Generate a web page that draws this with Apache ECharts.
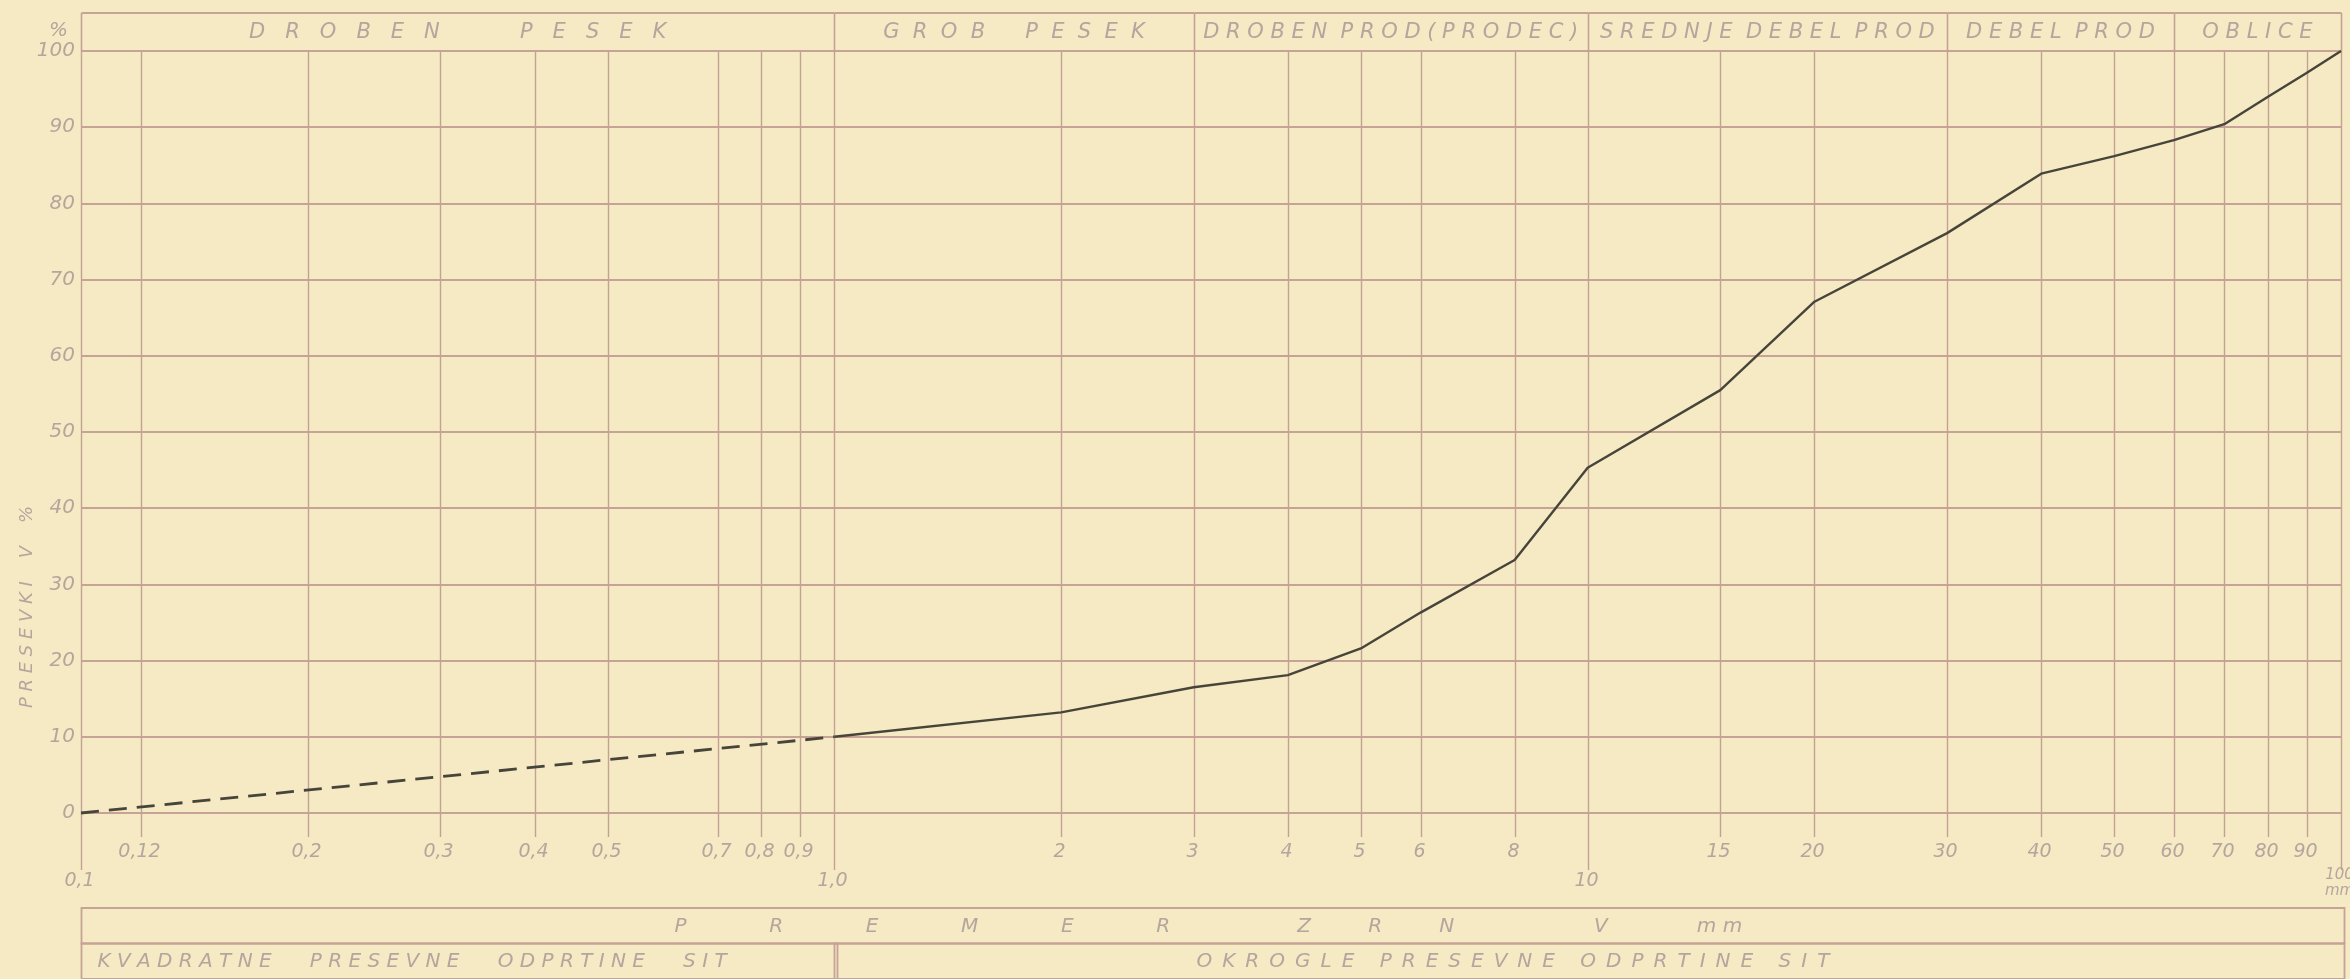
<!DOCTYPE html>
<html>
<head>
<meta charset="utf-8">
<script src="https://cdn.jsdelivr.net/npm/echarts@6/dist/echarts.min.js"></script>
<style>
  html, body { margin: 0; padding: 0; background: #f5eac3; }
  #c { width: 2350px; height: 979px; }
</style>
</head>
<body>
<div id="c"></div>
<script>
// ---------------- DATA ----------------
const sieveSizes  = [0.1, 0.12, 0.2, 0.3, 0.4, 0.5, 0.7, 0.8, 0.9, 1, 2, 3, 4, 5, 6, 8, 10, 15, 20, 30, 40, 50, 60, 70, 80, 90, 100];
const sieveLabels = ['0,1', '0,12', '0,2', '0,3', '0,4', '0,5', '0,7', '0,8', '0,9', '1,0', '2', '3', '4', '5', '6', '8', '10', '15', '20', '30', '40', '50', '60', '70', '80', '90', '100\nmm'];
const majorSizes  = [0.1, 1, 10, 100];

const percentMin = 0;
const percentMax = 100;
const percentStep = 10;

// dashed (extrapolated) part of the grading curve
const extrapolatedSize    = [0.1, 1];
const extrapolatedPassing = [0, 10];
// measured grading curve
const measuredSize    = [1, 2, 3, 4, 5, 6, 8, 10, 15, 20, 30, 40, 50, 60, 70, 80, 90, 100];
const measuredPassing = [10, 13.2, 16.5, 18.1, 21.6, 26.3, 33.2, 45.3, 55.5, 67.1, 76.1, 83.9, 86.2, 88.3, 90.4, 94.0, 97.1, 100];

// fraction bands in header
const bandEdges = [0.1, 1, 3, 10, 30, 60, 100];
const bandNames = ['DROBEN PESEK', 'GROB PESEK', 'DROBEN PROD(PRODEC)', 'SREDNJE DEBEL PROD', 'DEBEL PROD', 'OBLICE'];

// bottom table
const xTitleWords = ['PREMER', 'ZRN', 'V', 'mm'];
const sieveTypeEdges = [0.1, 1, 100];
const sieveTypeNames = ['KVADRATNE PRESEVNE ODPRTINE SIT', 'OKROGLE PRESEVNE ODPRTINE SIT'];

const yTitle = 'PRESEVKI V %';
const yUnit = '%';

// ---------------- STYLE ----------------
const PAPER = '#f5eac3';
const GRID_H = '#c6a396';
const GRID_V = '#c4a195';
const INK = '#47443a';
const TXT = '#b4a59e';
const FONT = '"DejaVu Sans", "Liberation Sans", sans-serif';
const FW = 200;

const SP = ' ', EN = '\u2002';
const bandLetterGap = [3, 2, 1, 1, 1, 1];
const bandWordGap   = [12, 6, 2, 2, 2, 2];
const xTitleLetterGap = [13, 9, 0, 1];
const xTitleWordGap   = [20, 22, 14];
const sieveTypeLetter = [SP, EN];
const sieveTypeWordGap = [6, 4];

function spread(text, letterSep, wordGap) {
  return text.split(' ').map(w => w.split('').join(letterSep)).join(SP.repeat(wordGap));
}
const xTitle = xTitleWords
  .map((w, i) => w.split('').join(SP.repeat(xTitleLetterGap[i])))
  .reduce((acc, w, i) => i ? acc + SP.repeat(xTitleWordGap[i - 1]) + w : w, '');

// bottom cells: [from, row, to]
const bottomCells = [[sieveTypeEdges[0], 0, sieveTypeEdges[2]]]
  .concat(sieveTypeNames.map((n, i) => [sieveTypeEdges[i], 1, sieveTypeEdges[i + 1]]));
const bottomTexts = [xTitle].concat(sieveTypeNames.map((n, i) => spread(n, sieveTypeLetter[i], sieveTypeWordGap[i])));
const bottomTextOffset = [593, 16, 362];

const chart = echarts.init(document.getElementById('c'), null, { renderer: 'canvas', width: 2350, height: 979 });

function txt(text, x, y, size, align, extra) {
  return Object.assign({
    type: 'text',
    style: {
      text: text, x: x, y: y, fill: TXT, fontSize: size, fontStyle: 'italic', fontWeight: FW,
      fontFamily: FONT, align: align || 'center', verticalAlign: 'middle'
    }
  }, extra || {});
}

function renderSieve(params, api) {
  const s = api.value(0);
  const i = params.dataIndex;
  const top = api.coord([s, percentMax]);
  const bot = api.coord([s, percentMin]);
  const major = majorSizes.indexOf(s) >= 0;
  const x = Math.round(top[0]) + 0.5;
  const last = s === majorSizes[majorSizes.length - 1];
  const label = txt(sieveLabels[i], x - 2, bot[1] + (major ? (last ? 70 : 68) : 39), last ? 15 : 19, 'center');
  label.style.lineHeight = 16;
  return {
    type: 'group',
    children: [
      { type: 'line', shape: { x1: x, y1: top[1], x2: x, y2: bot[1] + (major ? 57 : 24) },
        style: { stroke: GRID_V, lineWidth: 1.4 } },
      label
    ]
  };
}

function renderBand(params, api) {
  const i = params.dataIndex;
  const a = api.value(0), b = api.value(2);
  const pa0 = api.coord([a, 0]), pa1 = api.coord([a, 1]), pb1 = api.coord([b, 1]), pb0 = api.coord([b, 0]);
  const c = api.coord([Math.sqrt(a * b), 0.5]);
  const xa = Math.round(pa0[0]) + 0.5, xb = Math.round(pb0[0]) + 0.5;
  const children = [
    { type: 'line', shape: { x1: xa, y1: pa1[1], x2: xa, y2: pa0[1] }, style: { stroke: GRID_V, lineWidth: 1.6 } },
    { type: 'line', shape: { x1: xa, y1: pa1[1], x2: xb, y2: pb1[1] }, style: { stroke: GRID_H, lineWidth: 1.8 } },
    txt(spread(bandNames[i], SP.repeat(bandLetterGap[i]), bandWordGap[i]), c[0], c[1] + 1, 21, 'center')
  ];
  if (i === bandNames.length - 1) {
    children.push({ type: 'line', shape: { x1: xb, y1: pb1[1], x2: xb, y2: pb0[1] }, style: { stroke: GRID_V, lineWidth: 1.6 } });
  }
  return { type: 'group', children: children };
}

function renderCell(params, api) {
  const i = params.dataIndex;
  const a = api.value(0), row = api.value(1), b = api.value(2);
  const p0 = api.coord([a, row]), p1 = api.coord([b, row + 1]);
  const x0 = Math.round(p0[0]) + 0.5, x1 = Math.round(p1[0]) + 3.5;
  return {
    type: 'group',
    children: [
      { type: 'rect', shape: { x: x0, y: p0[1], width: x1 - x0, height: p1[1] - p0[1] },
        style: { fill: null, stroke: GRID_H, lineWidth: 1.8 } },
      txt(bottomTexts[i], x0 + bottomTextOffset[i], (p0[1] + p1[1]) / 2 + 1, 20, 'left')
    ]
  };
}

const yLabels = {};
for (let v = percentMin; v <= percentMax; v += percentStep) yLabels[v] = String(v);

const option = {
  backgroundColor: PAPER,
  animation: false,
  grid: [
    { left: 81, right: 9, top: 51, height: 762 },
    { left: 81, right: 9, top: 13, height: 38 },
    { left: 81, right: 9, top: 908, height: 74 }
  ],
  xAxis: [0, 1, 2].map(g => ({
    type: 'log', logBase: 10, min: sieveSizes[0], max: sieveSizes[sieveSizes.length - 1], gridIndex: g,
    axisLine: { show: false }, axisTick: { show: false }, axisLabel: { show: false }, splitLine: { show: false }
  })),
  yAxis: [
    {
      type: 'value', gridIndex: 0, min: percentMin, max: percentMax, interval: percentStep,
      axisLine: { show: false }, axisTick: { show: false },
      axisLabel: { color: TXT, fontSize: 20, fontStyle: 'italic', fontWeight: FW, fontFamily: FONT, margin: 6,
                   formatter: v => yLabels[v] },
      splitLine: { show: true, lineStyle: { color: GRID_H, width: 1.8 } }
    },
    { type: 'value', gridIndex: 1, min: 0, max: 1, show: false, splitLine: { show: false } },
    { type: 'value', gridIndex: 2, min: 0, max: 2, inverse: true, show: false, splitLine: { show: false } }
  ],
  graphic: [
    { type: 'text', left: 49, top: 21, style: { text: yUnit, fill: TXT, fontSize: 20, fontStyle: 'italic', fontWeight: FW, fontFamily: FONT } },
    { type: 'text', x: 27, y: 607, rotation: Math.PI / 2,
      style: { text: spread(yTitle, SP, 4), fill: TXT, fontSize: 18, fontStyle: 'italic', fontWeight: FW, fontFamily: FONT,
               align: 'center', verticalAlign: 'middle' } }
  ],
  series: [
    {
      name: 'sieves', type: 'custom', xAxisIndex: 0, yAxisIndex: 0, z: 1, silent: true,
      encode: { x: 0, y: 1 },
      data: sieveSizes.map(s => [s, percentMin]),
      renderItem: renderSieve
    },
    {
      name: 'bands', type: 'custom', xAxisIndex: 1, yAxisIndex: 1, z: 1, silent: true,
      encode: { x: 0, y: 1 },
      data: bandNames.map((n, i) => [bandEdges[i], 0, bandEdges[i + 1]]),
      renderItem: renderBand
    },
    {
      name: 'table', type: 'custom', xAxisIndex: 2, yAxisIndex: 2, z: 1, silent: true,
      encode: { x: 0, y: 1 },
      data: bottomCells,
      renderItem: renderCell
    },
    {
      name: 'extrapolated', type: 'line', xAxisIndex: 0, yAxisIndex: 0, z: 5, clip: false,
      symbol: 'none', smooth: false,
      lineStyle: { color: INK, width: 2.8, type: [18, 10] },
      data: extrapolatedSize.map((s, i) => [s, extrapolatedPassing[i]])
    },
    {
      name: 'measured', type: 'line', xAxisIndex: 0, yAxisIndex: 0, z: 5, clip: false,
      symbol: 'none', smooth: false,
      lineStyle: { color: INK, width: 2.4 },
      data: measuredSize.map((s, i) => [s, measuredPassing[i]])
    }
  ]
};
chart.setOption(option);
</script>
</body>
</html>
